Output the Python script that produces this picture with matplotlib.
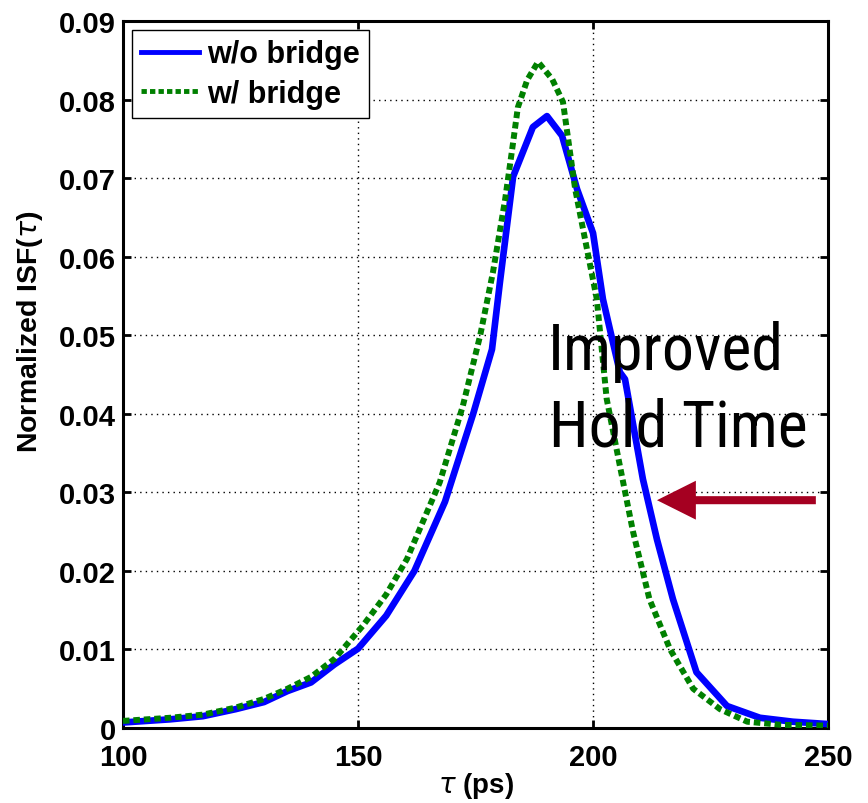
import matplotlib
matplotlib.use("Agg")
import matplotlib.pyplot as plt

plt.rcParams['font.family'] = ['Liberation Sans', 'DejaVu Sans']

# w/o bridge (solid blue)
tau_a = [100, 105, 110, 117, 124, 130, 135, 140, 145, 150, 156, 162, 168.5, 174.5, 178.5,
         180.2, 183, 187.2, 190.2, 193.4, 196.6, 200, 202.1, 205.7, 206.8, 210.6, 213.6,
         217, 222, 228.5, 235.5, 242.5, 250]
isf_a = [0.0007, 0.0009, 0.0011, 0.0015, 0.0024, 0.0033, 0.0047, 0.0058, 0.0081, 0.0101,
         0.0143, 0.0200, 0.0288, 0.0400, 0.0482, 0.0568, 0.0702, 0.0765, 0.0779, 0.0754,
         0.0686, 0.0630, 0.0546, 0.0453, 0.0444, 0.0317, 0.0240, 0.0164, 0.0071, 0.0028,
         0.0013, 0.0008, 0.0005]

# w/ bridge (dashed green)
tau_b = [100, 105, 110, 117, 124, 130, 135, 140, 145, 151, 156, 160.4, 167.4, 172.3, 176,
         178.7, 181.3, 182.8, 184, 186, 188.3, 191.3, 193.6, 194.7, 196.2, 198.3, 200.8,
         202.9, 205.7, 208.5, 212, 216.4, 221.3, 227, 232.8, 240, 250]
isf_b = [0.0009, 0.0011, 0.0013, 0.0017, 0.0026, 0.0037, 0.0050, 0.0065, 0.0088, 0.0130,
         0.0170, 0.0215, 0.0313, 0.0410, 0.0500, 0.0580, 0.0673, 0.0737, 0.0790, 0.0825,
         0.0848, 0.0826, 0.0797, 0.0750, 0.0686, 0.0622, 0.0546, 0.0419, 0.0334, 0.0250,
         0.0164, 0.0100, 0.0050, 0.0024, 0.0008, 0.0004, 0.0003]

xticks = [100, 150, 200, 250]
yticks = [0, 0.01, 0.02, 0.03, 0.04, 0.05, 0.06, 0.07, 0.08, 0.09]
ylabels = ['0', '0.01', '0.02', '0.03', '0.04', '0.05', '0.06', '0.07', '0.08', '0.09']

fig = plt.figure(figsize=(8.68, 8.04), dpi=100)
ax = fig.add_axes([0.1417, 0.0933, 0.8123, 0.8793])

ax.plot(tau_a, isf_a, color='#0000ff', lw=4.8, label='w/o bridge', zorder=3)
ax.plot(tau_b, isf_b, color='#008000', lw=4.3, ls=(0, (1.1, 0.65)),
        dash_capstyle='butt', label='w/ bridge', zorder=4)

ax.set_xlim(100, 250)
ax.set_ylim(0, 0.09)
ax.set_xticks(xticks)
ax.set_yticks(yticks)
ax.set_yticklabels(ylabels)
ax.grid(True, color='black', ls=(0, (1, 3)), lw=1.0)
ax.tick_params(direction='in', length=6, width=2, top=True, right=True, labelsize=21)
ax.tick_params(axis='x', pad=11)
ax.tick_params(axis='y', pad=5)
for lab in ax.get_xticklabels() + ax.get_yticklabels():
    lab.set_fontweight('bold')
for s in ax.spines.values():
    s.set_linewidth(2.2)

ax.set_xlabel(r'$\tau$ (ps)', fontsize=20, fontweight='bold', va='bottom')
ax.xaxis.set_label_coords(0.5, -0.1025)
ax.set_ylabel(r'Normalized ISF($\tau$)', fontsize=20.5, fontweight='bold')
ax.yaxis.set_label_coords(-0.1106, 0.5615)

leg = ax.legend(loc='upper left', prop={'weight': 'bold', 'size': 22},
                frameon=True, fancybox=False, edgecolor='black', framealpha=1,
                borderpad=0.3, handlelength=1.9, handletextpad=0.25,
                labelspacing=0.3, borderaxespad=0.3)
leg.get_frame().set_linewidth(1.0)
for ln in leg.get_lines():
    ln.set_linewidth(3.5)

big = ['Roboto Condensed', 'Liberation Sans Narrow', 'Liberation Sans']
ax.text(190.4, 0.0457, 'Improved', fontsize=46, family=big,
        ha='left', va='baseline', zorder=5)
ax.text(190.6, 0.0359, 'Hold Time', fontsize=46, family=big,
        ha='left', va='baseline', zorder=5)

ax.annotate('', xy=(213.6, 0.029), xytext=(247.4, 0.029),
            arrowprops=dict(arrowstyle='simple,head_length=1.4,head_width=1.4,tail_width=0.29',
                            color='#a50021', lw=0, shrinkA=0, shrinkB=0,
                            mutation_scale=20), zorder=5)

fig.savefig('out.png', dpi=100)
